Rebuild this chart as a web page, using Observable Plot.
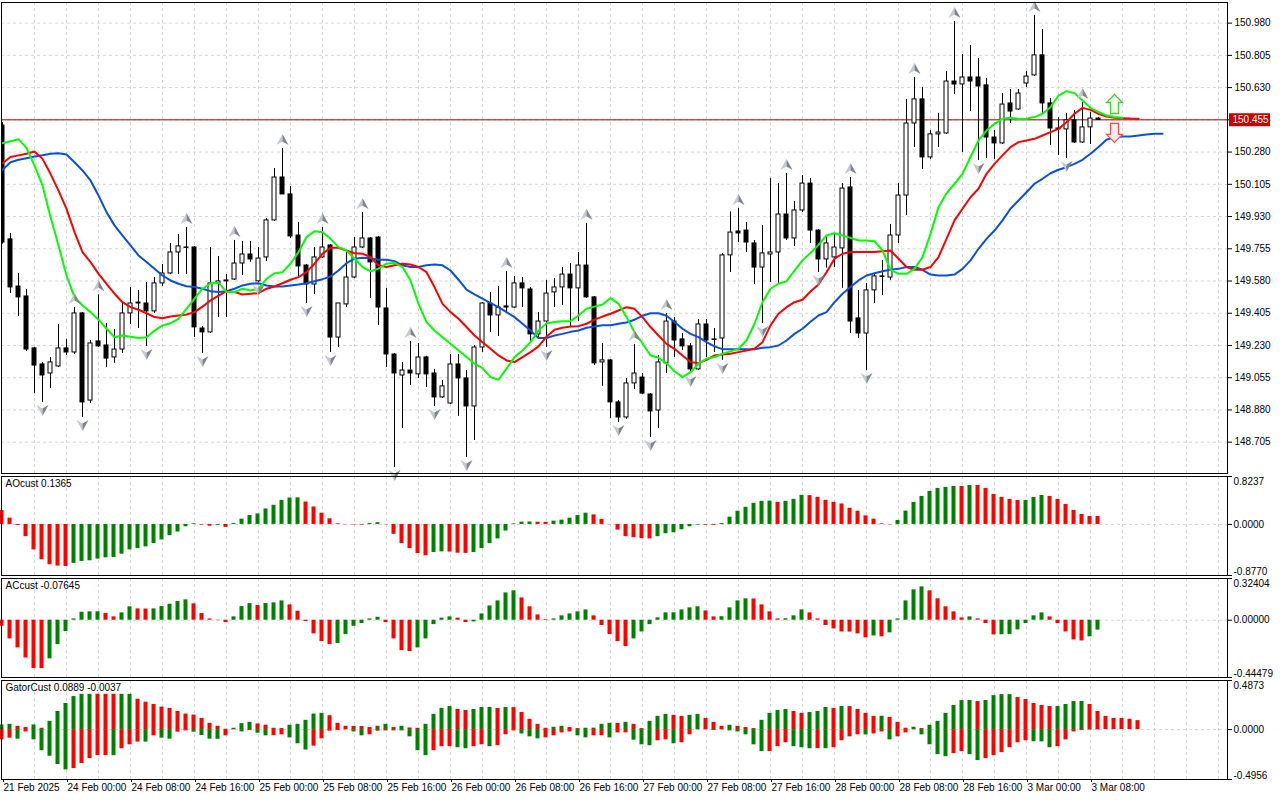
<!DOCTYPE html>
<html><head><meta charset="utf-8">
<script src="https://cdn.jsdelivr.net/npm/d3@7"></script>
<script src="https://cdn.jsdelivr.net/npm/@observablehq/plot@0.6"></script>
<style>
html,body{margin:0;padding:0;background:#fff;}
#chart{position:relative;width:1280px;height:800px;overflow:hidden;background:#fff;}
#chart > svg{position:absolute;left:0;}
</style></head><body><div id="chart"></div>
<script>
// ---------- price candles (hourly bars, index 0 = 21 Feb 16:00) ----------
const open = [150.424,149.806,149.550,149.496,149.214,149.127,149.078,149.116,149.214,149.192,
149.404,148.931,149.252,149.230,149.165,149.208,149.404,149.458,149.458,149.415,
149.567,149.621,149.735,149.762,149.762,149.322,149.301,149.567,149.578,149.588,
149.675,149.724,149.578,149.708,149.909,150.142,150.050,149.827,149.664,149.561,
149.708,149.773,149.273,149.453,149.599,149.762,149.811,149.816,149.431,149.181,
149.067,149.094,149.073,149.165,149.078,148.948,148.915,149.127,149.051,148.899,
149.219,149.458,149.393,149.442,149.436,149.567,149.534,149.290,149.360,149.518,
149.545,149.615,149.540,149.664,149.491,149.138,149.149,148.921,148.839,149.024,
149.056,148.964,148.877,149.133,149.360,149.263,149.225,149.100,149.344,149.263,
149.268,149.719,149.849,149.854,149.784,149.653,149.724,149.735,149.941,149.811,
149.963,150.109,149.854,149.697,149.708,149.757,150.088,149.377,149.295,149.529,
149.605,149.599,149.827,150.044,150.435,150.566,150.251,150.376,150.381,150.663,
150.647,150.685,150.685,150.642,150.359,150.327,150.544,150.511,150.652,150.696,
150.805,150.544,150.408,150.403,150.452,150.332,150.414,150.462];
const high = [150.440,149.838,149.621,149.534,149.219,149.138,149.165,149.344,149.263,149.436,
149.409,149.257,149.505,149.349,149.317,149.458,149.545,149.529,149.572,149.599,
149.670,149.784,149.833,149.871,149.767,149.333,149.762,149.713,149.615,149.800,
149.795,149.795,149.762,149.919,150.191,150.300,150.093,149.898,149.670,149.762,
149.871,149.778,149.458,149.735,149.816,149.952,149.816,149.822,149.540,149.187,
149.138,149.252,149.241,149.171,149.100,149.040,149.181,149.181,149.094,149.230,
149.463,149.518,149.550,149.632,149.605,149.599,149.545,149.409,149.583,149.594,
149.653,149.675,149.735,149.893,149.496,149.241,149.154,148.931,149.051,149.236,
149.078,148.969,149.176,149.404,149.382,149.295,149.241,149.371,149.371,149.322,
149.730,149.955,149.974,149.898,149.800,149.881,150.137,150.109,150.164,150.012,
150.153,150.137,149.860,149.827,149.838,150.109,150.142,149.529,149.567,149.621,
149.692,149.887,150.109,150.566,150.685,150.631,150.397,150.490,150.718,150.989,
150.810,150.859,150.788,150.680,150.397,150.598,150.620,150.620,150.718,151.022,
150.946,150.571,150.468,150.490,150.506,150.549,150.495,150.468];
const low = [149.780,149.512,149.387,149.197,148.969,148.921,148.997,149.110,149.176,149.181,
148.839,148.915,149.219,149.111,149.133,149.187,149.344,149.322,149.225,149.404,
149.550,149.615,149.615,149.615,149.273,149.187,149.295,149.382,149.382,149.583,
149.610,149.681,149.572,149.686,149.903,150.050,149.811,149.599,149.458,149.507,
149.702,149.192,149.219,149.436,149.594,149.757,149.485,149.339,149.111,148.568,
148.780,149.013,149.051,149.002,148.899,148.942,148.910,148.845,148.622,148.714,
149.192,149.301,149.279,149.404,149.431,149.436,149.252,149.273,149.219,149.436,
149.447,149.328,149.360,149.485,149.121,149.008,148.834,148.812,148.829,148.991,
148.964,148.731,148.780,149.078,149.165,149.203,149.078,149.094,149.165,149.192,
149.149,149.626,149.789,149.735,149.561,149.349,149.572,149.567,149.800,149.767,
149.952,149.784,149.626,149.650,149.653,149.540,149.295,149.268,149.094,149.458,
149.501,149.583,149.784,149.936,150.305,150.186,150.240,150.305,150.376,150.593,
150.278,150.500,150.234,150.245,150.240,150.321,150.435,150.506,150.631,150.690,
150.490,150.316,150.262,150.245,150.327,150.327,150.321,150.452];
const close = [149.789,149.545,149.491,149.208,149.121,149.067,149.138,149.214,149.192,149.404,
148.921,149.241,149.225,149.159,149.208,149.404,149.458,149.463,149.415,149.567,
149.621,149.735,149.768,149.760,149.328,149.301,149.567,149.578,149.583,149.675,
149.724,149.697,149.702,149.909,150.142,150.050,149.822,149.659,149.561,149.708,
149.762,149.273,149.458,149.599,149.762,149.811,149.681,149.436,149.181,149.078,
149.094,149.078,149.165,149.073,148.948,149.008,149.127,149.051,148.899,149.219,
149.458,149.393,149.436,149.436,149.567,149.540,149.290,149.360,149.512,149.545,
149.615,149.540,149.664,149.491,149.133,149.149,148.921,148.839,149.024,149.078,
148.969,148.872,149.138,149.360,149.257,149.225,149.100,149.344,149.257,149.260,
149.719,149.843,149.838,149.789,149.653,149.730,149.735,149.941,149.811,149.963,
150.109,149.854,149.697,149.784,149.762,150.082,149.360,149.295,149.529,149.605,
149.602,149.827,150.044,150.435,150.566,150.251,150.376,150.386,150.663,150.647,
150.685,150.663,150.636,150.359,150.327,150.538,150.500,150.598,150.690,150.805,
150.544,150.408,150.403,150.452,150.332,150.414,150.462,150.455];

// ---------- Alligator lines (already shifted forward) ----------
const lips = [150.328,150.339,150.350,150.303,150.207,150.099,149.927,149.773,149.610,149.493,
149.447,149.411,149.370,149.321,149.275,149.284,149.278,149.271,149.275,149.311,
149.339,149.351,149.375,149.429,149.484,149.538,149.568,149.571,149.520,149.520,
149.538,149.529,149.538,149.592,149.622,149.628,149.674,149.737,149.818,149.850,
149.845,149.809,149.764,149.746,149.701,149.656,149.633,149.647,149.674,149.679,
149.656,149.583,149.456,149.357,149.311,149.275,149.239,149.203,149.167,149.131,
149.107,149.058,149.044,149.104,149.167,149.203,149.248,149.311,149.350,149.357,
149.361,149.362,149.393,149.429,149.441,149.452,149.487,149.456,149.384,149.302,
149.242,149.176,149.163,149.134,149.090,149.058,149.085,149.131,149.158,149.167,
149.185,149.198,149.212,149.257,149.348,149.465,149.538,149.565,149.578,149.637,
149.692,149.732,149.776,149.827,149.839,149.827,149.814,149.800,149.800,149.796,
149.746,149.641,149.619,149.619,149.646,149.710,149.836,149.981,150.056,150.108,
150.162,150.253,150.343,150.397,150.433,150.461,150.466,150.459,150.461,150.470,
150.488,150.524,150.587,150.611,150.600,150.560,150.520,150.497,150.479,150.470,
150.466];
const teeth = [150.219,150.253,150.262,150.271,150.283,150.243,150.162,150.071,149.972,149.845,
149.737,149.683,149.619,149.565,149.511,149.465,149.438,149.424,149.405,149.384,
149.378,149.387,149.393,149.398,149.411,149.441,149.474,149.501,149.525,149.520,
149.507,149.511,149.514,149.538,149.550,149.568,149.587,149.601,149.628,149.674,
149.728,149.760,149.760,149.746,149.731,149.728,149.710,149.665,149.656,149.665,
149.674,149.670,149.656,149.628,149.547,149.456,149.411,149.375,149.330,149.284,
149.248,149.212,149.176,149.149,149.140,149.167,149.194,149.225,149.278,149.315,
149.326,149.333,149.335,149.348,149.370,149.387,149.402,149.420,149.438,149.429,
149.384,149.330,149.284,149.239,149.212,149.176,149.140,149.134,149.152,149.176,
149.181,149.185,149.194,149.203,149.212,149.248,149.339,149.402,149.438,149.465,
149.478,149.523,149.561,149.628,149.701,149.728,149.737,149.737,149.737,149.737,
149.742,149.746,149.701,149.656,149.641,149.641,149.656,149.710,149.809,149.909,
149.972,150.035,150.081,150.162,150.216,150.262,150.307,150.334,150.343,150.352,
150.370,150.388,150.406,150.442,150.488,150.520,150.509,150.488,150.473,150.466,
150.464,150.462,150.461];
const jaw = [150.184,150.225,150.238,150.247,150.256,150.263,150.271,150.274,150.267,150.225,
150.180,150.126,150.044,149.954,149.882,149.827,149.773,149.719,149.683,149.647,
149.610,149.583,149.565,149.552,149.547,149.538,149.525,149.520,149.525,149.538,
149.556,149.565,149.568,149.556,149.550,149.550,149.556,149.561,149.568,149.579,
149.590,149.604,149.637,149.677,149.701,149.706,149.704,149.696,149.696,149.688,
149.665,149.656,149.656,149.665,149.670,149.665,149.637,149.587,149.533,149.507,
149.484,149.460,149.438,149.411,149.384,149.348,149.311,149.271,149.270,149.284,
149.293,149.304,149.311,149.326,149.333,149.340,149.340,149.348,149.355,149.370,
149.391,149.405,149.405,149.391,149.357,149.321,149.293,149.275,149.248,149.225,
149.210,149.210,149.210,149.210,149.210,149.218,149.221,149.230,149.257,149.293,
149.321,149.359,149.393,149.411,149.465,149.511,149.547,149.583,149.610,149.622,
149.633,149.641,149.646,149.656,149.656,149.641,149.615,149.610,149.610,149.615,
149.646,149.692,149.755,149.809,149.854,149.909,149.972,150.017,150.062,150.108,
150.135,150.165,150.184,150.198,150.216,150.238,150.271,150.307,150.347,150.361,
150.365,150.365,150.370,150.376,150.379,150.379];

// ---------- Fractals and signals ----------
const fractalUpBars = [9,12,23,29,35,40,45,51,63,73,79,83,92,98,106,114,119,129,135];
const fractalDownBars = [5,10,18,25,32,38,41,49,54,58,68,77,81,86,90,95,102,108,122,133];
const signalBar = [139];
const signalUpPrice = [150.541];
const signalDownPrice = [150.384];
const lastPrice = 150.455;

// ---------- Awesome Oscillator ----------
const aoValues = [0.238,0.108,-0.017,-0.210,-0.437,-0.607,-0.692,-0.715,-0.722,-0.669,
-0.635,-0.624,-0.595,-0.573,-0.567,-0.510,-0.437,-0.414,-0.385,-0.329,
-0.266,-0.193,-0.130,-0.040,0.012,-0.012,-0.030,-0.015,-0.050,0.017,
0.091,0.153,0.181,0.266,0.329,0.414,0.454,0.457,0.385,0.300,
0.193,0.096,0.011,-0.005,-0.008,-0.011,0.017,0.030,-0.005,-0.170,
-0.329,-0.414,-0.499,-0.539,-0.482,-0.471,-0.474,-0.494,-0.497,-0.482,
-0.414,-0.329,-0.249,-0.113,0.010,0.040,0.042,0.038,0.036,0.057,
0.074,0.108,0.153,0.193,0.164,0.085,-0.003,-0.096,-0.210,-0.227,
-0.244,-0.249,-0.210,-0.159,-0.142,-0.091,-0.040,-0.011,-0.013,-0.015,
0.017,0.125,0.227,0.295,0.363,0.397,0.400,0.380,0.397,0.431,
0.499,0.495,0.465,0.414,0.380,0.352,0.278,0.227,0.147,0.091,
0.011,-0.006,0.069,0.229,0.378,0.481,0.567,0.619,0.636,0.653,
0.652,0.670,0.669,0.619,0.515,0.464,0.430,0.412,0.413,0.464,
0.498,0.481,0.430,0.344,0.241,0.172,0.137,0.1365];
const aoColors = ("rrrrrrrrrg"+"gggggggggg"+"gggggrrgrg"+"ggggggggrr"+"rrrrrrggrr"+
"rrrrggrrrg"+"gggggggrrg"+"ggggrrrrrr"+"rrggggggrr"+"gggggggrgg"+"grrrrrrrrr"+
"rrgggggggg"+"rgrrrrrrgg"+"grrrrrrr").split("");

// ---------- Accelerator Oscillator ----------
const acValues = [-0.047,-0.145,-0.215,-0.293,-0.375,-0.376,-0.300,-0.189,-0.088,0.010,
0.062,0.065,0.066,0.052,0.026,0.057,0.104,0.088,0.087,0.088,
0.106,0.124,0.145,0.158,0.127,0.052,0.010,-0.003,-0.018,0.026,
0.106,0.129,0.114,0.130,0.135,0.150,0.119,0.070,-0.010,-0.106,
-0.166,-0.189,-0.181,-0.111,-0.047,-0.026,0.010,0.023,-0.018,-0.145,
-0.236,-0.243,-0.215,-0.145,-0.034,0.016,0.026,0.016,-0.018,-0.013,
0.049,0.111,0.150,0.212,0.228,0.173,0.104,0.041,0.005,0.010,
0.034,0.049,0.065,0.080,0.034,-0.041,-0.111,-0.166,-0.205,-0.145,
-0.091,-0.034,0.018,0.057,0.058,0.080,0.096,0.104,0.072,0.026,
0.027,0.096,0.150,0.166,0.165,0.119,0.065,0.010,0.011,0.034,
0.080,0.057,0.010,-0.041,-0.067,-0.091,-0.092,-0.106,-0.137,-0.122,
-0.129,-0.098,0.010,0.150,0.236,0.259,0.228,0.166,0.104,0.065,
0.018,0.026,0.010,-0.026,-0.114,-0.113,-0.111,-0.075,-0.026,0.034,
0.057,0.026,-0.026,-0.091,-0.153,-0.161,-0.129,-0.07645];
const acColors = ("rrrrrrgggg"+"gggrrggrrg"+"ggggrrrrrg"+"ggrgggrrrr"+"rrggggggrr"+
"rrgggggrrg"+"gggggrrrrg"+"ggggrrrrrg"+"ggggggggrr"+"ggggrrrrgg"+"grrrrrrrrg"+
"rgggggrrrr"+"rgrrrggggg"+"grrrrrgg").split("");

// ---------- Gator Oscillator ----------
const gatorUpper = [0.046,0.052,0.033,0.020,0.046,0.013,0.082,0.180,0.259,0.328,
0.350,0.350,0.350,0.350,0.350,0.350,0.350,0.301,0.272,0.249,
0.223,0.210,0.180,0.154,0.144,0.111,0.062,0.033,0.003,0.013,
0.059,0.072,0.056,0.043,0.013,0.010,0.043,0.052,0.092,0.154,
0.161,0.138,0.062,0.033,0.032,0.030,0.020,0.033,0.052,0.020,
0.033,0.016,0.013,0.052,0.151,0.210,0.229,0.200,0.190,0.200,
0.219,0.220,0.210,0.219,0.218,0.170,0.102,0.052,0.013,0.023,
0.033,0.020,0.010,0.013,0.014,0.052,0.062,0.061,0.072,0.052,
0.010,0.082,0.131,0.151,0.141,0.131,0.141,0.151,0.111,0.072,
0.033,0.043,0.033,0.020,0.010,0.092,0.161,0.190,0.200,0.180,
0.161,0.170,0.180,0.219,0.210,0.229,0.228,0.200,0.161,0.131,
0.132,0.121,0.072,0.013,0.023,0.010,0.043,0.082,0.161,0.239,
0.288,0.289,0.278,0.289,0.337,0.347,0.347,0.318,0.298,0.259,
0.239,0.229,0.230,0.249,0.278,0.279,0.249,0.180,0.131,0.111,
0.110,0.102,0.0889];
const gatorUpperColors = ("ggrrgrgggg"+"ggrrrggrrr"+"rrrrrrrrrg"+"ggrrrrgggg"+"grrrrrrggr"+
"grrggggrrg"+"ggrgrrrrrg"+"grrggggrgr"+"rgggrrggrr"+"rgrrrggggr"+"rgggrgrrrr"+
"grrrgrgggg"+"ggrggggrrr"+"rrggggrrrr"+"rrr").split("");
const gatorLower = [-0.102,-0.085,-0.095,-0.023,-0.102,-0.210,-0.265,-0.347,-0.400,-0.387,
-0.337,-0.288,-0.259,-0.258,-0.259,-0.190,-0.151,-0.124,-0.124,-0.062,
-0.085,-0.095,-0.026,-0.013,-0.026,-0.059,-0.095,-0.096,-0.062,-0.003,
-0.023,-0.010,-0.036,-0.062,-0.061,-0.052,-0.082,-0.141,-0.203,-0.164,
-0.092,-0.016,-0.010,-0.003,-0.023,-0.062,-0.052,-0.016,-0.013,-0.013,
-0.013,-0.072,-0.210,-0.259,-0.210,-0.170,-0.170,-0.180,-0.190,-0.170,
-0.151,-0.170,-0.160,-0.052,-0.013,-0.043,-0.072,-0.092,-0.082,-0.062,
-0.033,-0.023,-0.062,-0.082,-0.062,-0.061,-0.082,-0.033,-0.032,-0.105,
-0.151,-0.160,-0.111,-0.102,-0.141,-0.131,-0.052,-0.003,-0.002,-0.010,
-0.003,-0.013,-0.023,-0.052,-0.151,-0.219,-0.218,-0.170,-0.131,-0.170,
-0.180,-0.190,-0.189,-0.190,-0.180,-0.111,-0.072,-0.052,-0.053,-0.043,
-0.023,-0.102,-0.072,-0.033,-0.003,-0.052,-0.151,-0.249,-0.269,-0.239,
-0.219,-0.249,-0.308,-0.288,-0.259,-0.229,-0.180,-0.131,-0.111,-0.121,
-0.122,-0.180,-0.170,-0.102,-0.023,-0.010,-0.005,-0.0037];
const gatorLowerColors = ("rrgrgggggr"+"rrrrgrrrgr"+"ggrrggggrr"+"grggrrgggr"+"rrrrggrrrg"+
"ggggrrrggr"+"rgrrrgggrr"+"rrggrrgrrg"+"ggrrgrrrrg"+"rgggggrrrg"+"ggrgrrrrgr"+
"rgrrrggggr"+"rggrrrrrrg"+"ggrrrrgr").split("");

// ---------- scales / labels ----------
const priceTicks = [148.705,148.880,149.055,149.230,149.405,149.580,149.755,149.930,150.105,150.280,150.455,150.630,150.805,150.980];
const priceDomain = [148.535, 151.092];
const aoDomain = [-0.8770, 0.8237];
const acDomain = [-0.44479, 0.32404];
const gatorDomain = [-0.4956, 0.4873];
const aoLabels = ["0.8237","0.0000","-0.8770"];
const acLabels = ["0.32404","0.00000","-0.44479"];
const gatorLabels = ["0.4873","0.0000","-0.4956"];
const panelTitles = ["AOcust 0.1365","ACcust -0.07645","GatorCust 0.0889 -0.0037"];
const xTickBars = [0,8,16,24,32,40,48,56,64,72,80,88,96,104,112,120,128,136];
const xLabels = ["21 Feb 2025","24 Feb 00:00","24 Feb 08:00","24 Feb 16:00","25 Feb 00:00","25 Feb 08:00",
"25 Feb 16:00","26 Feb 00:00","26 Feb 08:00","26 Feb 16:00","27 Feb 00:00","27 Feb 08:00","27 Feb 16:00",
"28 Feb 00:00","28 Feb 08:00","28 Feb 16:00","3 Mar 00:00","3 Mar 08:00"];

// ---------- drawing ----------
const W = 1280, ML = 1, MR = 53;
const xDomain = [-0.125, 153.125];
const gridBars = d3.range(4, 153, 4);
const GRID = "#d6d6d6", DASH = "3,3";
const HC = {g: "#008000", r: "#ff0000"};
const FONT = "'Liberation Sans', Arial, sans-serif";
const style = {fontFamily: FONT, fontSize: "10px", color: "#000", background: "transparent", overflow: "visible"};
const chart = document.getElementById("chart");

const candles = open.map((o, i) => ({i, o, h: high[i], l: low[i], c: close[i]}));

const sym = (pts) => ({draw(ctx) { ctx.moveTo(pts[0][0], pts[0][1]); for (const p of pts.slice(1)) ctx.lineTo(p[0], p[1]); ctx.closePath(); }});
const fracUpL = sym([[0,-5.5],[0,2],[-6,5.5]]);
const fracUpR = sym([[0,-5.5],[6,5.5],[0,2]]);
const fracDnL = sym([[0,5.5],[0,-2],[-6,-5.5]]);
const fracDnR = sym([[0,5.5],[6,-5.5],[0,-2]]);
const arrowUp = sym([[0,-9.5],[8,-1.5],[4,-1.5],[4,9.5],[-4,9.5],[-4,-1.5],[-8,-1.5]]);
const arrowDn = sym([[0,9.5],[8,1.5],[4,1.5],[4,-9.5],[-4,-9.5],[-4,1.5],[-8,1.5]]);
const tagSym = sym([[-20.5,-6.5],[20.5,-6.5],[20.5,6.5],[-20.5,6.5]]);

function place(svg, top) { svg.style.top = top + "px"; chart.appendChild(svg); }

const main = Plot.plot({
  width: W, height: 475, marginTop: 2, marginBottom: 2, marginLeft: ML, marginRight: MR,
  x: {domain: xDomain, axis: null},
  y: {domain: priceDomain, axis: null},
  style,
  marks: [
    Plot.gridX(gridBars, {stroke: GRID, strokeOpacity: 1, strokeDasharray: DASH}),
    Plot.gridY(priceTicks, {stroke: GRID, strokeOpacity: 1, strokeDasharray: DASH}),
    Plot.ruleY([lastPrice], {stroke: "#a00000"}),
    Plot.ruleX(candles, {x: "i", y1: "l", y2: "h", stroke: "#000", clip: true}),
    Plot.rect(candles, {x1: d => d.i - 0.25, x2: d => d.i + 0.25, y1: "o", y2: "c",
      fill: d => d.c >= d.o ? "#fff" : "#000", stroke: "#000", clip: true}),
    Plot.line(jaw, {x: (d, i) => i, y: d => d, stroke: "#0a50dc", strokeWidth: 2, clip: true}),
    Plot.line(teeth, {x: (d, i) => i, y: d => d, stroke: "#ff0000", strokeWidth: 2, clip: true}),
    Plot.line(lips, {x: (d, i) => i, y: d => d, stroke: "#00ff00", strokeWidth: 2, clip: true}),
    Plot.dot(fractalUpBars, {x: d => d, y: d => high[d], dy: -9, symbol: fracUpL, r: 6, fill: "#c4c8d0", stroke: "none"}),
    Plot.dot(fractalUpBars, {x: d => d, y: d => high[d], dy: -9, symbol: fracUpR, r: 6, fill: "#80848c", stroke: "none"}),
    Plot.dot(fractalDownBars, {x: d => d, y: d => low[d], dy: 8, symbol: fracDnL, r: 6, fill: "#c4c8d0", stroke: "none"}),
    Plot.dot(fractalDownBars, {x: d => d, y: d => low[d], dy: 8, symbol: fracDnR, r: 6, fill: "#80848c", stroke: "none"}),
    Plot.dot(signalBar, {x: d => d, y: (d, i) => signalUpPrice[i], symbol: arrowUp, r: 8, fill: "#efffe0", stroke: "#44cc44", strokeWidth: 1.3}),
    Plot.dot(signalBar, {x: d => d, y: (d, i) => signalDownPrice[i], symbol: arrowDn, r: 8, fill: "#ffecec", stroke: "#ff4a4a", strokeWidth: 1.3}),
    Plot.axisY(priceTicks, {anchor: "right", label: null, tickSize: 4, tickPadding: 3, tickFormat: d => d.toFixed(3)}),
    Plot.dot([lastPrice], {y: d => d, frameAnchor: "right", dx: 22, symbol: tagSym, r: 8, fill: "#c80000", stroke: "none"}),
    Plot.text([lastPrice], {y: d => d, frameAnchor: "right", dx: 5, textAnchor: "start", text: d => d.toFixed(3), fill: "#fff"}),
    Plot.frame({stroke: "#000"})
  ]
});
place(main, 0);

function histMarks(values, colors) {
  return values.map((v, i) => ({i, v, c: colors[i]}));
}

function subPanel({top, height, mb, domain, series, labels, title, xAxis}) {
  const marks = [
    Plot.gridX(gridBars, {stroke: GRID, strokeOpacity: 1, strokeDasharray: DASH}),
    Plot.ruleY([0], {stroke: GRID, strokeDasharray: DASH})
  ];
  for (const s of series) {
    marks.push(Plot.rect(s, {x1: d => d.i - 0.25, x2: d => d.i + 0.25, y1: 0, y2: "v", fill: d => HC[d.c], dx: -0.5}));
  }
  marks.push(
    Plot.text([title], {frameAnchor: "top-left", dx: 4, dy: 3, lineAnchor: "top", text: d => d, fill: "#000"}),
    Plot.axisY([domain[1], 0, domain[0]], {anchor: "right", label: null, tickSize: 4, tickFormat: () => ""}),
    Plot.text([labels[0]], {y: domain[1], frameAnchor: "right", dx: 6, textAnchor: "start", lineAnchor: "top", dy: 1, text: d => d}),
    Plot.text([labels[1]], {y: 0, frameAnchor: "right", dx: 6, textAnchor: "start", lineAnchor: "middle", text: d => d}),
    Plot.text([labels[2]], {y: domain[0], frameAnchor: "right", dx: 6, textAnchor: "start", lineAnchor: "bottom", dy: -1, text: d => d}),
    Plot.frame({stroke: "#000"})
  );
  if (xAxis) {
    marks.push(Plot.axisX(xTickBars, {anchor: "bottom", label: null, tickSize: 3, tickPadding: 1, textAnchor: "start", dx: 1,
      tickFormat: d => xLabels[xTickBars.indexOf(d)]}));
  }
  const p = Plot.plot({
    width: W, height, marginTop: 1, marginBottom: mb, marginLeft: ML, marginRight: MR,
    x: {domain: xDomain, axis: null},
    y: {domain, axis: null},
    style,
    marks
  });
  place(p, top);
}

subPanel({top: 475, height: 101, mb: 1, domain: aoDomain,
  series: [histMarks(aoValues, aoColors)], labels: aoLabels, title: panelTitles[0]});
subPanel({top: 577, height: 101, mb: 1, domain: acDomain,
  series: [histMarks(acValues, acColors)], labels: acLabels, title: panelTitles[1]});
subPanel({top: 679, height: 121, mb: 21, domain: gatorDomain,
  series: [histMarks(gatorUpper, gatorUpperColors), histMarks(gatorLower, gatorLowerColors)],
  labels: gatorLabels, title: panelTitles[2], xAxis: true});
</script>
</body></html>
